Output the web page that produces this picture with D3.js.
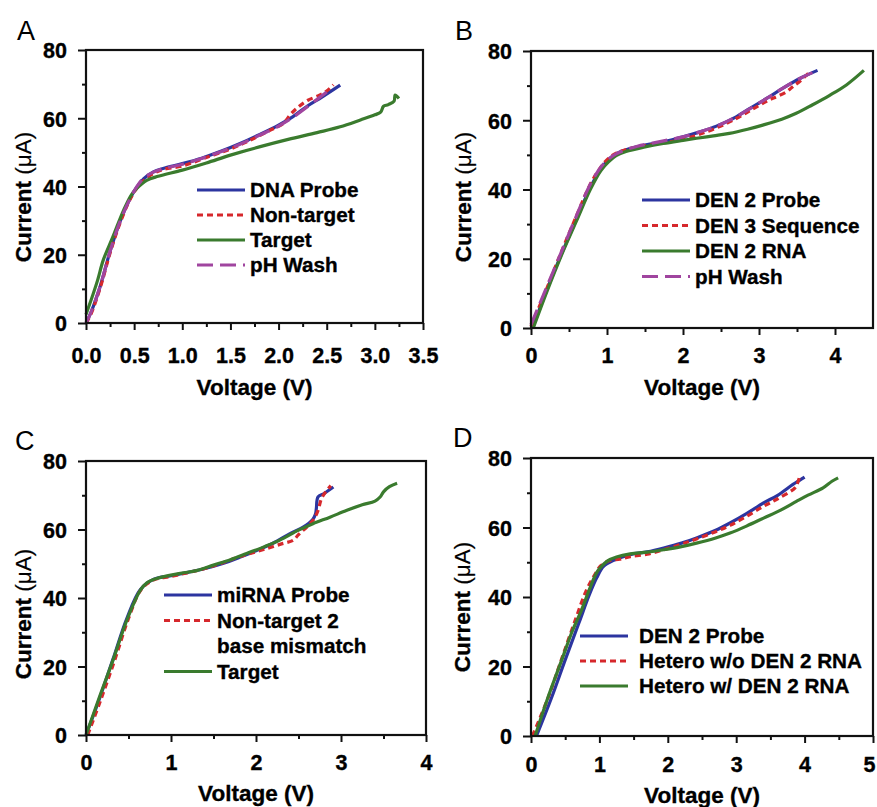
<!DOCTYPE html>
<html>
<head>
<meta charset="utf-8">
<script src="https://cdn.jsdelivr.net/npm/d3@7"></script>
<style>
  html, body { margin: 0; padding: 0; background: #fff; }
  svg { display: block; font-family: 'Liberation Sans', Arial, sans-serif; }
</style>
</head>
<body>
<div id="chart"></div>
<script>
// series as [voltage (V), current (uA)]
const aProbe = [[0,0],[0.05,3],[0.15,11],[0.25,21],[0.35,29.5],[0.45,36],[0.52,39.5],[0.6,42.3],[0.7,44.3],[0.8,45.3],[1.0,46.7],[1.2,48.3],[1.4,50.3],[1.6,52.6],[1.8,55.2],[2.0,58],[2.15,60.5],[2.3,63.6],[2.45,66.2],[2.64,69.7]];
const aNonTarget = [[0,0],[0.05,2.5],[0.15,10.5],[0.25,20.5],[0.35,29],[0.45,35.8],[0.52,39.2],[0.6,41.8],[0.7,43.8],[0.8,45],[1.0,46],[1.25,48.5],[1.5,51],[1.7,53.5],[1.9,56.3],[2.05,58.5],[2.12,61],[2.2,63.2],[2.3,65.2],[2.43,66.8],[2.5,68],[2.57,69.8]];
const aTarget = [[0,2.5],[0.05,6.5],[0.12,12.5],[0.18,18.5],[0.28,25.3],[0.39,33],[0.47,37.5],[0.53,39.5],[0.63,41.8],[0.75,43],[1.0,44.8],[1.25,46.9],[1.5,49.2],[1.8,51.6],[2.1,53.8],[2.4,55.8],[2.64,57.5],[2.85,59.5],[3.0,61],[3.06,61.8],[3.09,63.5],[3.14,64],[3.2,65],[3.21,66.8],[3.25,65.8]];
const aWash = [[0,0],[0.05,3],[0.15,11],[0.25,21],[0.35,29.5],[0.45,36],[0.52,39.6],[0.6,42.5],[0.7,44.2],[0.8,45.2],[1.0,46.5],[1.2,48.2],[1.4,50.2],[1.6,52.4],[1.8,55],[2.0,57.7],[2.15,60.3],[2.3,63.4],[2.53,68.3]];

const bProbe = [[0.02,0],[0.2,10.5],[0.4,21.3],[0.6,31.5],[0.78,40.5],[0.92,46],[1.03,48.8],[1.15,50.6],[1.3,51.8],[1.5,52.8],[1.75,53.8],[2.0,55.2],[2.2,56.5],[2.44,58.3],[2.7,61],[2.88,63.4],[3.1,66.3],[3.31,69.2],[3.55,72.2],[3.77,74.4]];
const bSequence = [[0,0.5],[0.2,11],[0.4,22],[0.6,32.5],[0.78,41.5],[0.92,46.5],[1.03,49.2],[1.15,50.8],[1.3,51.8],[1.5,52.6],[1.75,53.5],[2.0,54.5],[2.2,55.8],[2.44,57.8],[2.7,60.5],[2.9,63],[3.1,65.5],[3.2,66.5],[3.36,68.2],[3.45,69.8],[3.55,71.5],[3.68,74.2]];
const bRNA = [[0.03,0],[0.2,10],[0.4,21],[0.6,31],[0.78,40],[0.92,45.5],[1.02,48],[1.12,49.8],[1.25,51],[1.5,52.3],[1.74,53.3],[2.0,54.2],[2.18,54.8],[2.4,55.5],[2.61,56.2],[2.85,57.4],[3.05,58.6],[3.3,60.3],[3.49,62],[3.7,64.4],[3.93,67.2],[4.15,70.2],[4.38,74.4]];
const bWash = [[0,1],[0.2,11.5],[0.4,22],[0.6,32.5],[0.78,41.5],[0.92,46.5],[1.02,48.8],[1.12,50.3],[1.25,51.5],[1.4,52.5],[1.6,53.4],[1.8,54.3],[2.0,55.2],[2.2,56.5],[2.44,58.3],[2.7,61],[2.9,63.6],[3.1,66.3],[3.31,69.2],[3.55,72.2],[3.75,74.2]];

const cProbe = [[0,0],[0.15,10],[0.32,22.3],[0.48,34],[0.64,42.5],[0.8,45.5],[1.0,46.5],[1.2,47.5],[1.4,48.6],[1.6,50],[1.8,51.8],[2.0,53.8],[2.2,56],[2.4,58.8],[2.55,60.6],[2.67,63],[2.7,64.5],[2.71,66.1],[2.73,69.5],[2.8,70.5],[2.91,72.4]];
const cMismatch = [[0.02,0],[0.17,10],[0.34,22],[0.5,34],[0.65,42.5],[0.8,45.3],[1.0,46.3],[1.2,47.4],[1.4,48.6],[1.6,50.2],[1.8,52],[2.0,53.5],[2.15,54.6],[2.3,55.8],[2.44,56.9],[2.5,58.5],[2.6,60.8],[2.68,63],[2.73,65.6],[2.77,69],[2.82,71],[2.88,72.8]];
const cTarget = [[0,0],[0.15,10.5],[0.32,22],[0.48,33.5],[0.64,42.3],[0.72,44.5],[0.83,45.7],[1.11,47.2],[1.3,48],[1.5,49.6],[1.7,51.2],[1.89,53],[2.1,55],[2.28,56.9],[2.5,59.8],[2.67,61.7],[2.87,63.6],[3.07,65.6],[3.25,67.2],[3.4,68.3],[3.46,69.5],[3.5,71],[3.57,72.5],[3.66,73.5]];

const dProbe = [[0.08,0],[0.3,11],[0.5,21.9],[0.7,32.5],[0.85,40.5],[0.96,45.5],[1.06,48.8],[1.2,50.5],[1.45,52.2],[1.7,53],[1.94,54.1],[2.2,55.5],[2.42,57],[2.7,59.2],[2.91,61.3],[3.15,64],[3.4,67.1],[3.6,69.2],[3.83,72.4],[3.92,73.5],[4.0,74.5]];
const dHeteroNo = [[0.02,0],[0.25,11],[0.45,22.3],[0.65,33.5],[0.8,41.5],[0.92,46],[1.02,49],[1.15,50.5],[1.3,50.9],[1.45,51.6],[1.7,52.3],[1.94,53.6],[2.2,55.2],[2.42,56.7],[2.7,58.8],[2.91,60.6],[3.15,63.2],[3.4,66.1],[3.6,68.2],[3.86,71.4],[3.9,73],[3.93,74.8]];
const dHeteroW = [[0.06,0],[0.25,11.2],[0.45,21.9],[0.6,30],[0.74,36.3],[0.86,42.5],[0.96,47],[1.03,48.8],[1.12,50.4],[1.25,51.5],[1.45,52.4],[1.7,52.9],[1.94,53.6],[2.2,54.5],[2.42,55.5],[2.7,57],[2.91,58.4],[3.15,60.4],[3.4,62.7],[3.65,65],[3.88,67.5],[4.05,69.3],[4.27,71.4],[4.4,73.3],[4.49,74.3]];

const yTicks = [0, 20, 40, 60, 80];
const yMinor = [10, 30, 50, 70];
const xTicksA = [0, 0.5, 1, 1.5, 2, 2.5, 3, 3.5];
const xMinorA = [0.25, 0.75, 1.25, 1.75, 2.25, 2.75, 3.25];
const xTicksB = [0, 1, 2, 3, 4];
const xMinorB = [0.5, 1.5, 2.5, 3.5];
const xTicksD = [0, 1, 2, 3, 4, 5];
const xMinorD = [0.5, 1.5, 2.5, 3.5, 4.5];

const BLUE = '#2c35a0', RED = '#d6282c', GREEN = '#3a7b2e', PURPLE = '#a0459f';
const SOLID = null, DOT = '6,4', DASH = '16,7';

const panels = [
  { letter: 'A', lx: 17, ly: 40, left: 86, right: 423, top: 50, bottom: 323, xMax: 3.5,
    xTicks: xTicksA, xMinor: xMinorA, fmt: d3.format('.1f'), labelY: 40, titleY: 395,
    yTitleX: 31, yTitleY: 197, legX: 197, legY: 190, legStep: 25,
    series: [
      { name: 'DNA Probe', data: aProbe, color: BLUE, dash: SOLID },
      { name: 'Non-target', data: aNonTarget, color: RED, dash: DOT },
      { name: 'Target', data: aTarget, color: GREEN, dash: SOLID },
      { name: 'pH Wash', data: aWash, color: PURPLE, dash: DASH }
    ] },
  { letter: 'B', lx: 455, ly: 40, left: 531, right: 873, top: 51, bottom: 328, xMax: 4.5,
    xTicks: xTicksB, xMinor: xMinorB, fmt: d3.format('d'), labelY: 35, titleY: 395,
    yTitleX: 471, yTitleY: 197, legX: 642, legY: 200, legStep: 25.5,
    series: [
      { name: 'DEN 2 Probe', data: bProbe, color: BLUE, dash: SOLID },
      { name: 'DEN 3 Sequence', data: bSequence, color: RED, dash: DOT },
      { name: 'DEN 2 RNA', data: bRNA, color: GREEN, dash: SOLID },
      { name: 'pH Wash', data: bWash, color: PURPLE, dash: DASH }
    ] },
  { letter: 'C', lx: 15, ly: 450, left: 86, right: 426, top: 461, bottom: 735, xMax: 4,
    xTicks: xTicksB, xMinor: xMinorB, fmt: d3.format('d'), labelY: 35, titleY: 801,
    yTitleX: 31, yTitleY: 614, legX: 164, legY: 595, legStep: 25.5,
    series: [
      { name: 'miRNA Probe', data: cProbe, color: BLUE, dash: SOLID },
      { name: ['Non-target 2', 'base mismatch'], data: cMismatch, color: RED, dash: DOT },
      { name: 'Target', data: cTarget, color: GREEN, dash: SOLID }
    ] },
  { letter: 'D', lx: 453, ly: 447, left: 531, right: 873, top: 458, bottom: 736, xMax: 5,
    xTicks: xTicksD, xMinor: xMinorD, fmt: d3.format('d'), labelY: 36, titleY: 803,
    yTitleX: 470, yTitleY: 607, legX: 580, legY: 636, legStep: 25,
    legTextGap: 11, lastLabelShift: -4,
    series: [
      { name: 'DEN 2 Probe', data: dProbe, color: BLUE, dash: SOLID },
      { name: 'Hetero w/o DEN 2 RNA', data: dHeteroNo, color: RED, dash: DOT },
      { name: 'Hetero w/ DEN 2 RNA', data: dHeteroW, color: GREEN, dash: SOLID }
    ] }
];

const svg = d3.select('#chart').append('svg')
  .attr('width', 877)
  .attr('height', 807);

// heavier look of the printed bold type
const boldText = (sel) => sel
  .attr('fill', '#000')
  .attr('font-weight', 'bold')
  .attr('stroke', '#000')
  .attr('stroke-width', 0.35)
  .attr('font-family', "'Liberation Sans', Arial, sans-serif");

panels.forEach((p) => {
  const g = svg.append('g');
  const x = d3.scaleLinear().domain([0, p.xMax]).range([p.left, p.right]);
  const y = d3.scaleLinear().domain([0, 80]).range([p.bottom, p.top]);

  g.append('text')
    .attr('x', p.lx)
    .attr('y', p.ly)
    .attr('font-size', 27)
    .text(p.letter);

  // minor ticks
  g.append('g')
    .attr('transform', `translate(0,${p.bottom})`)
    .call(d3.axisBottom(x).tickValues(p.xMinor).tickSize(4).tickFormat(''))
    .call((a) => a.select('.domain').remove());
  g.append('g')
    .attr('transform', `translate(${p.left},0)`)
    .call(d3.axisLeft(y).tickValues(yMinor).tickSize(4).tickFormat(''))
    .call((a) => a.select('.domain').remove());

  const xAxis = g.append('g')
    .attr('transform', `translate(0,${p.bottom})`)
    .call(d3.axisBottom(x).tickValues(p.xTicks).tickSize(7).tickFormat(p.fmt));
  xAxis.select('.domain').remove();
  xAxis.selectAll('text')
    .attr('y', p.labelY)
    .attr('dy', null)
    .attr('font-size', 21.5)
    .call(boldText);
  if (p.lastLabelShift) {
    xAxis.selectAll('text').filter((d, i, n) => i === n.length - 1)
      .attr('x', p.lastLabelShift);
  }

  const yAxis = g.append('g')
    .attr('transform', `translate(${p.left},0)`)
    .call(d3.axisLeft(y).tickValues(yTicks).tickSize(8));
  yAxis.select('.domain').remove();
  yAxis.selectAll('text')
    .attr('x', -19)
    .attr('dy', '0.36em')
    .attr('font-size', 21.5)
    .call(boldText);

  g.selectAll('.tick line').attr('stroke', '#111').attr('stroke-width', 2);

  // curves
  const line = d3.line()
    .x((d) => x(d[0]))
    .y((d) => y(d[1]))
    .curve(d3.curveCatmullRom.alpha(0.5));

  p.series.forEach((s) => {
    g.append('path')
      .datum(s.data)
      .attr('fill', 'none')
      .attr('stroke', s.color)
      .attr('stroke-width', 3.2)
      .attr('stroke-dasharray', s.dash)
      .attr('d', line);
  });

  // frame
  g.append('rect')
    .attr('x', p.left)
    .attr('y', p.top)
    .attr('width', p.right - p.left)
    .attr('height', p.bottom - p.top)
    .attr('fill', 'none')
    .attr('stroke', '#111')
    .attr('stroke-width', 2.2);

  g.append('text')
    .attr('x', (p.left + p.right) / 2)
    .attr('y', p.titleY)
    .attr('text-anchor', 'middle')
    .attr('font-size', 22.5)
    .call(boldText)
    .text('Voltage (V)');

  const yt = g.append('text')
    .attr('transform', `translate(${p.yTitleX},${p.yTitleY}) rotate(-90)`)
    .attr('text-anchor', 'middle')
    .attr('font-size', 22.5)
    .call(boldText);
  yt.append('tspan').text('Current ');
  yt.append('tspan').attr('font-weight', 'normal').attr('stroke-width', 0.2).text('(\u03bcA)');

  // legend
  let row = 0;
  const gap = p.legTextGap || 5;
  p.series.forEach((s) => {
    const ly = p.legY + row * p.legStep;
    g.append('line')
      .attr('x1', p.legX)
      .attr('x2', p.legX + 48)
      .attr('y1', ly)
      .attr('y2', ly)
      .attr('stroke', s.color)
      .attr('stroke-width', 3.2)
      .attr('stroke-dasharray', s.dash);
    const names = Array.isArray(s.name) ? s.name : [s.name];
    names.forEach((n, i) => {
      g.append('text')
        .attr('x', p.legX + 48 + gap)
        .attr('y', ly + i * p.legStep)
        .attr('dy', '0.36em')
        .attr('font-size', 20.7)
        .call(boldText)
        .text(n);
    });
    row += names.length;
  });
});
</script>
</body>
</html>
